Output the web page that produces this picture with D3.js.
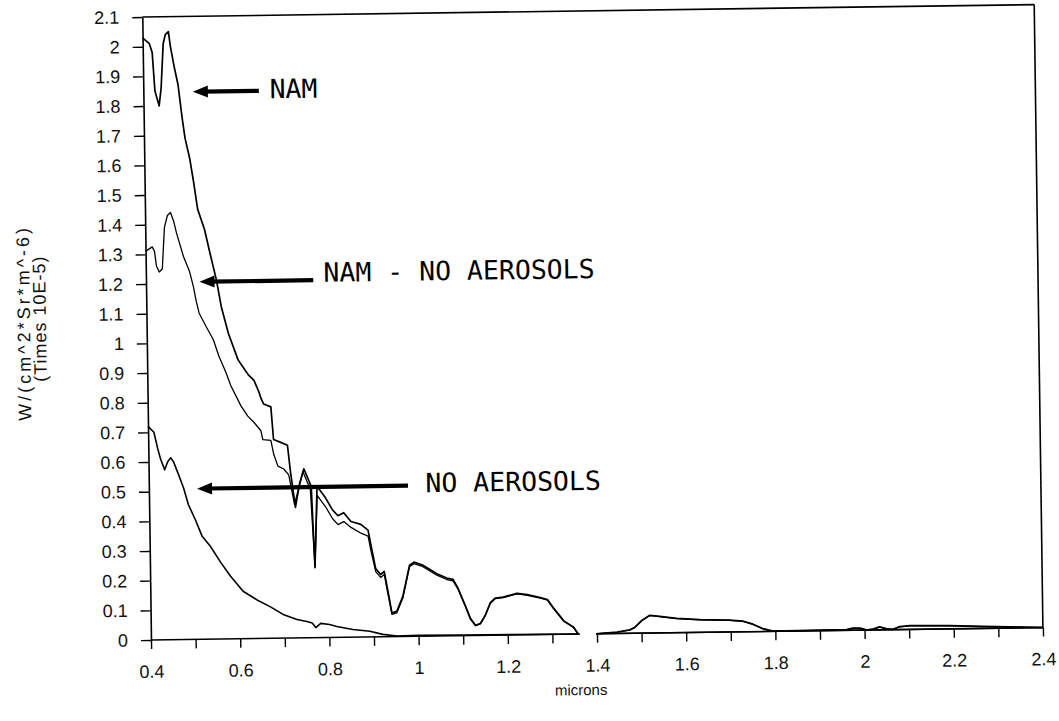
<!DOCTYPE html>
<html>
<head>
<meta charset="utf-8">
<script src="https://cdn.jsdelivr.net/npm/d3@7"></script>
<style>
  html, body { margin: 0; padding: 0; background: #fff; }
  svg { display: block; }
</style>
</head>
<body>
<svg id="chart" width="1059" height="721"></svg>
<script>
// ---------- DATA ----------
// wavelength (microns), radiance (W/(cm^2*Sr*m^-6) x 1E-5); null = gap in the trace
const namSeries = [
  [0.400,2.03],[0.415,2.01],[0.421,1.98],[0.426,1.85],[0.435,1.80],[0.440,1.86],[0.446,2.01],
  [0.451,2.04],[0.458,2.05],[0.462,2.00],[0.470,1.93],[0.478,1.87],[0.486,1.76],[0.492,1.69],
  [0.502,1.62],[0.510,1.54],[0.518,1.45],[0.533,1.38],[0.543,1.31],[0.558,1.21],[0.568,1.12],
  [0.583,1.03],[0.604,0.94],[0.626,0.89],[0.639,0.87],[0.650,0.83],[0.654,0.81],[0.660,0.79],
  [0.676,0.78],[0.681,0.67],[0.697,0.66],[0.712,0.65],[0.718,0.56],[0.728,0.44],[0.738,0.52],
  [0.748,0.57],[0.764,0.51],[0.770,0.236],[0.777,0.51],[0.796,0.47],[0.811,0.43],[0.823,0.41],
  [0.836,0.42],[0.852,0.39],[0.874,0.38],[0.890,0.36],[0.896,0.31],[0.906,0.23],[0.917,0.21],
  [0.925,0.22],[0.932,0.16],[0.941,0.08],[0.952,0.085],[0.966,0.135],[0.982,0.24],[0.992,0.25],
  [1.011,0.24],[1.043,0.21],[1.065,0.195],[1.079,0.19],[1.090,0.16],[1.106,0.10],[1.117,0.057],
  [1.128,0.034],[1.139,0.04],[1.150,0.067],[1.162,0.11],[1.173,0.125],[1.191,0.128],[1.222,0.14],
  [1.245,0.135],[1.274,0.125],[1.290,0.118],[1.303,0.09],[1.326,0.045],[1.348,0.023],[1.358,0.0],
  [1.38,null],
  [1.398,0.0],[1.445,0.005],[1.474,0.012],[1.485,0.02],[1.501,0.043],[1.519,0.06],[1.541,0.056],
  [1.579,0.048],[1.631,0.043],[1.698,0.04],[1.727,0.036],[1.750,0.025],[1.772,0.01],[1.795,0.001],
  [1.960,0.002],[1.974,0.007],[1.990,0.007],[2.005,0.0],[2.019,0.003],[2.034,0.01],[2.050,0.003],
  [2.064,0.001],[2.079,0.01],[2.102,0.013],[2.190,0.011],[2.265,0.007],[2.326,0.004],[2.400,0.0]
];
const namMinusNoAerSeries = [
  [0.400,1.31],[0.415,1.325],[0.420,1.31],[0.424,1.26],[0.430,1.24],[0.437,1.25],[0.443,1.39],
  [0.450,1.43],[0.457,1.44],[0.464,1.41],[0.470,1.37],[0.485,1.29],[0.498,1.24],[0.506,1.19],
  [0.512,1.14],[0.518,1.10],[0.533,1.055],[0.549,1.01],[0.561,0.954],[0.576,0.90],[0.587,0.853],
  [0.609,0.785],[0.624,0.75],[0.637,0.73],[0.653,0.70],[0.657,0.67],[0.675,0.667],[0.681,0.62],
  [0.690,0.58],[0.703,0.57],[0.714,0.55],[0.726,0.45],[0.746,0.56],[0.762,0.50],[0.770,0.24],
  [0.777,0.48],[0.796,0.44],[0.811,0.40],[0.823,0.38],[0.836,0.39],[0.852,0.37],[0.874,0.35],
  [0.890,0.34],[0.896,0.29],[0.906,0.22],[0.917,0.20],[0.925,0.21],[0.932,0.15],[0.941,0.075],
  [0.952,0.08],[0.966,0.13],[0.982,0.235],[0.992,0.245],[1.011,0.235],[1.043,0.205],[1.065,0.19],
  [1.079,0.185],[1.090,0.157],[1.106,0.098],[1.117,0.055],[1.128,0.033],[1.139,0.039],[1.150,0.066],
  [1.162,0.108],[1.173,0.123],[1.191,0.126],[1.222,0.138],[1.245,0.133],[1.274,0.123],[1.290,0.116],
  [1.303,0.088],[1.326,0.044],[1.348,0.022],[1.358,0.0],
  [1.38,null],
  [1.398,0.0],[1.445,0.004],[1.474,0.011],[1.485,0.019],[1.501,0.042],[1.519,0.059],[1.541,0.055],
  [1.579,0.047],[1.631,0.042],[1.698,0.039],[1.727,0.035],[1.750,0.024],[1.772,0.009],[1.795,0.0],
  [1.960,0.002],[1.974,0.006],[1.990,0.006],[2.005,0.0],[2.019,0.003],[2.034,0.009],[2.050,0.003],
  [2.064,0.001],[2.079,0.009],[2.102,0.012],[2.190,0.010],[2.265,0.006],[2.326,0.003],[2.400,0.0]
];
const noAerosolsSeries = [
  [0.400,0.72],[0.413,0.70],[0.421,0.645],[0.427,0.61],[0.436,0.573],[0.443,0.60],[0.450,0.613],
  [0.456,0.60],[0.467,0.556],[0.478,0.51],[0.488,0.455],[0.503,0.404],[0.518,0.347],[0.536,0.313],
  [0.558,0.26],[0.580,0.212],[0.608,0.160],[0.639,0.13],[0.668,0.107],[0.697,0.08],[0.728,0.062],
  [0.750,0.055],[0.762,0.05],[0.770,0.034],[0.781,0.048],[0.801,0.044],[0.817,0.037],[0.853,0.026],
  [0.891,0.019],[0.920,0.008],[0.952,0.002],[1.000,0.003],[1.100,0.002],[1.358,0.0],
  [1.38,null],
  [1.398,0.0],[2.400,0.0]
];

// axis ticks and labels
const xTicks = [0.4,0.5,0.6,0.7,0.8,0.9,1.0,1.1,1.2,1.3,1.4,1.5,1.6,1.7,1.8,1.9,2.0,2.1,2.2,2.3,2.4];
const xTickLabels = ["0.4","","0.6","","0.8","","1","","1.2","","1.4","","1.6","","1.8","","2","","2.2","","2.4"];
const yTicks = [0,0.1,0.2,0.3,0.4,0.5,0.6,0.7,0.8,0.9,1.0,1.1,1.2,1.3,1.4,1.5,1.6,1.7,1.8,1.9,2.0,2.1];
const yTickLabels = ["0","0.1","0.2","0.3","0.4","0.5","0.6","0.7","0.8","0.9","1","1.1","1.2","1.3","1.4","1.5","1.6","1.7","1.8","1.9","2","2.1"];
const xTitle = "microns";
const yTitleLines = ["W/(cm^2*Sr*m^-6)", "(Times 10E-5)"];

// annotations: label, arrow tip [x,y], arrow tail [x,y], text anchor [x,y] (data units)
const annotationLabels = ["NAM", "NAM - NO AEROSOLS", "NO AEROSOLS"];
const annotationTips   = [[0.511,1.846],[0.520,1.205],[0.508,0.508]];
const annotationTails  = [[0.659,1.846],[0.775,1.205],[0.981,0.508]];
const annotationText   = [[0.683,1.820],[0.798,1.199],[1.020,0.485]];

// ---------- CHART ----------
const svg = d3.select("#chart");
const g = svg.append("g").attr("transform", "rotate(-0.8 592.6 322.3)");

const x = d3.scaleLinear().domain([0.4, 2.4]).range([146.6, 1038.6]);
const y = d3.scaleLinear().domain([0, 2.1]).range([633.8, 10.8]);

const tickFont = "'Liberation Sans', Arial, sans-serif";

// Y axis
const yAxis = g.append("g")
  .attr("transform", `translate(${x(0.4)},0)`)
  .call(d3.axisLeft(y).tickValues(yTicks).tickFormat((d, i) => yTickLabels[i])
        .tickSize(10).tickPadding(13).tickSizeOuter(0));
yAxis.select(".domain").attr("stroke", "#000").attr("stroke-width", 1.6);
yAxis.selectAll(".tick line").attr("stroke", "#000").attr("stroke-width", 1.4);
yAxis.selectAll(".tick text").attr("font-family", tickFont).attr("font-size", 18).attr("fill", "#111");

// X axis (domain drawn as segments below)
const xAxis = g.append("g")
  .attr("transform", `translate(0,${y(0)})`)
  .call(d3.axisBottom(x).tickValues(xTicks).tickFormat((d, i) => xTickLabels[i])
        .tickSize(9).tickPadding(16).tickSizeOuter(0));
xAxis.select(".domain").remove();
xAxis.selectAll(".tick line").attr("stroke", "#000").attr("stroke-width", 1.4);
xAxis.selectAll(".tick text").attr("font-family", tickFont).attr("font-size", 18).attr("fill", "#111");

// baseline segments (gap in the scan between 1.36 and 1.40)
const baseSegments = [[0.4, 1.362], [1.398, 2.4]];
g.selectAll(".baseline").data(baseSegments).join("line")
  .attr("class", "baseline")
  .attr("x1", d => x(d[0])).attr("x2", d => x(d[1]))
  .attr("y1", y(0)).attr("y2", y(0))
  .attr("stroke", "#000").attr("stroke-width", 1.5);

// frame: top and right
g.append("line").attr("x1", x(0.4)).attr("x2", x(2.4)).attr("y1", y(2.1)).attr("y2", y(2.1))
  .attr("stroke", "#000").attr("stroke-width", 1.6);
g.append("line").attr("x1", x(2.4)).attr("x2", x(2.4)).attr("y1", y(2.1)).attr("y2", y(0))
  .attr("stroke", "#000").attr("stroke-width", 1.6);

// curves
const line = d3.line()
  .defined(d => d[1] !== null)
  .x(d => x(d[0])).y(d => y(d[1]))
  .curve(d3.curveLinear);

const series = [noAerosolsSeries, namMinusNoAerSeries, namSeries];
const widths = [1.6, 1.3, 1.7];
g.selectAll(".curve").data(series).join("path")
  .attr("class", "curve")
  .attr("d", line)
  .attr("fill", "none")
  .attr("stroke", "#000")
  .attr("stroke-width", (d, i) => widths[i])
  .attr("stroke-linejoin", "round");

// annotations
annotationLabels.forEach((lab, i) => {
  const tip = annotationTips[i], tail = annotationTails[i], tp = annotationText[i];
  const tx = x(tip[0]), ty = y(tip[1]);
  g.append("line")
    .attr("x1", tx + 10).attr("y1", ty)
    .attr("x2", x(tail[0])).attr("y2", y(tail[1]))
    .attr("stroke", "#000").attr("stroke-width", 4.2);
  g.append("path")
    .attr("d", d3.line()([[tx, ty], [tx + 15, ty - 6], [tx + 15, ty + 6]]) + "Z")
    .attr("fill", "#000");
  g.append("text")
    .attr("x", x(tp[0])).attr("y", y(tp[1]))
    .attr("font-family", "'DejaVu Sans Mono', 'Liberation Mono', monospace")
    .attr("font-size", 26.5)
    .attr("fill", "#000")
    .text(lab);
});

// axis titles
g.append("text")
  .attr("x", 576).attr("y", 695)
  .attr("text-anchor", "middle")
  .attr("font-family", tickFont).attr("font-size", 15).attr("fill", "#111")
  .text(xTitle);

const yTitlePos = [[30, 315], [46, 311]];
const yTitleSpacing = [3, 1];
yTitleLines.forEach((t, i) => {
  g.append("text")
    .attr("transform", `translate(${yTitlePos[i][0]},${yTitlePos[i][1]}) rotate(-90)`)
    .attr("text-anchor", "middle")
    .attr("font-family", tickFont).attr("font-size", 18).attr("fill", "#111")
    .attr("letter-spacing", yTitleSpacing[i])
    .text(t);
});
</script>
</body>
</html>
